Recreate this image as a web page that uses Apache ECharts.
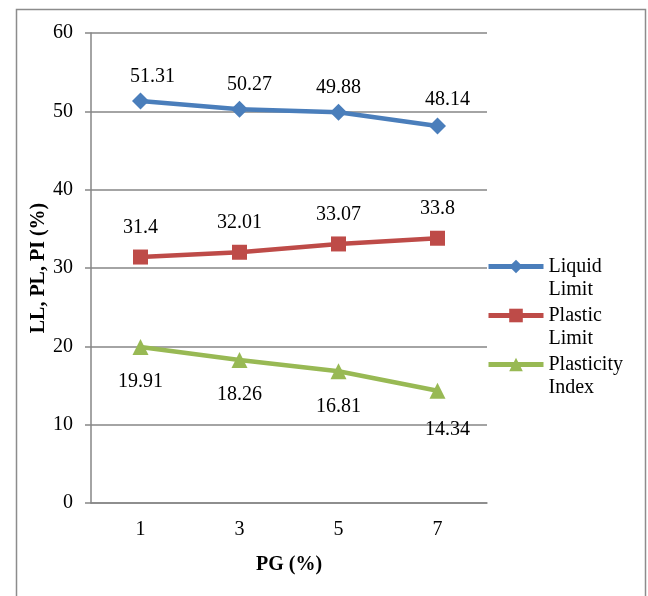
<!DOCTYPE html>
<html>
<head>
<meta charset="utf-8">
<script src="https://cdn.jsdelivr.net/npm/echarts@6/dist/echarts.min.js"></script>
<style>
html,body{margin:0;padding:0;background:#fff;}
#chart{width:648px;height:596px;}
</style>
</head>
<body>
<div id="chart"></div>
<script>
var categories = ['1', '3', '5', '7'];
var liquidLimit = [51.31, 50.27, 49.88, 48.14];
var plasticLimit = [31.4, 32.01, 33.07, 33.8];
var plasticityIndex = [19.91, 18.26, 16.81, 14.34];
var seriesNames = ['Liquid Limit', 'Plastic Limit', 'Plasticity Index'];
var yTicks = [0, 10, 20, 30, 40, 50, 60];

// label nudges (style only, in px)
var llLabelShift = [[12, 0], [10, 0], [0, 0], [10, -2]];
var plLabelShift = [[0, 0], [0, 0], [0, 0], [0, 0]];
var piLabelShift = [[0, 0], [0, 0], [0, 0], [10, 4]];

var FONT = '"Liberation Serif", "Times New Roman", serif';
var chart = echarts.init(document.getElementById('chart'));

function lineSeries(name, values, shifts, color, symbol, size, pos, dist) {
  return {
    name: name, type: 'line',
    data: values.map(function (v, i) {
      return {value: v, label: {offset: shifts[i]}};
    }),
    symbol: symbol, symbolSize: size,
    lineStyle: {color: color, width: 4.5},
    itemStyle: {color: color},
    label: {show: true, position: pos, distance: dist, color: '#000',
            fontFamily: FONT, fontSize: 20},
    emphasis: {disabled: true},
    animation: false
  };
}

chart.setOption({
  backgroundColor: '#fff',
  animation: false,
  graphic: [{
    type: 'rect', left: 14, top: 7, z: -1,
    shape: {width: 629, height: 600},
    style: {fill: 'none', stroke: '#8c8c8c', lineWidth: 1.5}
  }],
  grid: {left: 91, right: 161, top: 33, bottom: 93},
  legend: {
    orient: 'vertical', left: 486, top: 232, padding: 0,
    itemWidth: 55, itemHeight: 17, itemGap: -20,
    data: seriesNames,
    lineStyle: {width: 5},
    formatter: function (n) { return ' \n' + n.replace(' ', '\n'); },
    textStyle: {fontFamily: FONT, fontSize: 20, color: '#000', lineHeight: 23}
  },
  xAxis: {
    type: 'category', data: categories, boundaryGap: true,
    name: 'PG (%)', nameLocation: 'middle', nameGap: 52, nameMoveOverlap: false,
    nameTextStyle: {fontFamily: FONT, fontSize: 20, fontWeight: 'bold', color: '#000'},
    axisLine: {show: true, lineStyle: {color: '#868686', width: 1.5}},
    axisTick: {show: false},
    axisLabel: {fontFamily: FONT, fontSize: 20, color: '#000', margin: 17}
  },
  yAxis: {
    type: 'value', min: yTicks[0], max: yTicks[yTicks.length - 1], interval: 10,
    name: 'LL, PL, PI (%)', nameLocation: 'middle', nameGap: 42, nameMoveOverlap: false,
    nameTextStyle: {fontFamily: FONT, fontSize: 20, fontWeight: 'bold', color: '#000'},
    axisLine: {show: true, lineStyle: {color: '#868686', width: 1.5}},
    axisTick: {show: true, length: 6, lineStyle: {color: '#868686', width: 1.5}},
    splitLine: {show: true, lineStyle: {color: '#868686', width: 1.5}},
    axisLabel: {fontFamily: FONT, fontSize: 20, color: '#000', margin: 18}
  },
  series: [
    lineSeries(seriesNames[0], liquidLimit, llLabelShift, '#4A7EBB', 'diamond', 17, 'top', 6),
    lineSeries(seriesNames[1], plasticLimit, plLabelShift, '#BE4B48', 'rect', 15, 'top', 12),
    lineSeries(seriesNames[2], plasticityIndex, piLabelShift, '#98B954', 'triangle', 16, 'bottom', 17)
  ]
});
</script>
</body>
</html>
